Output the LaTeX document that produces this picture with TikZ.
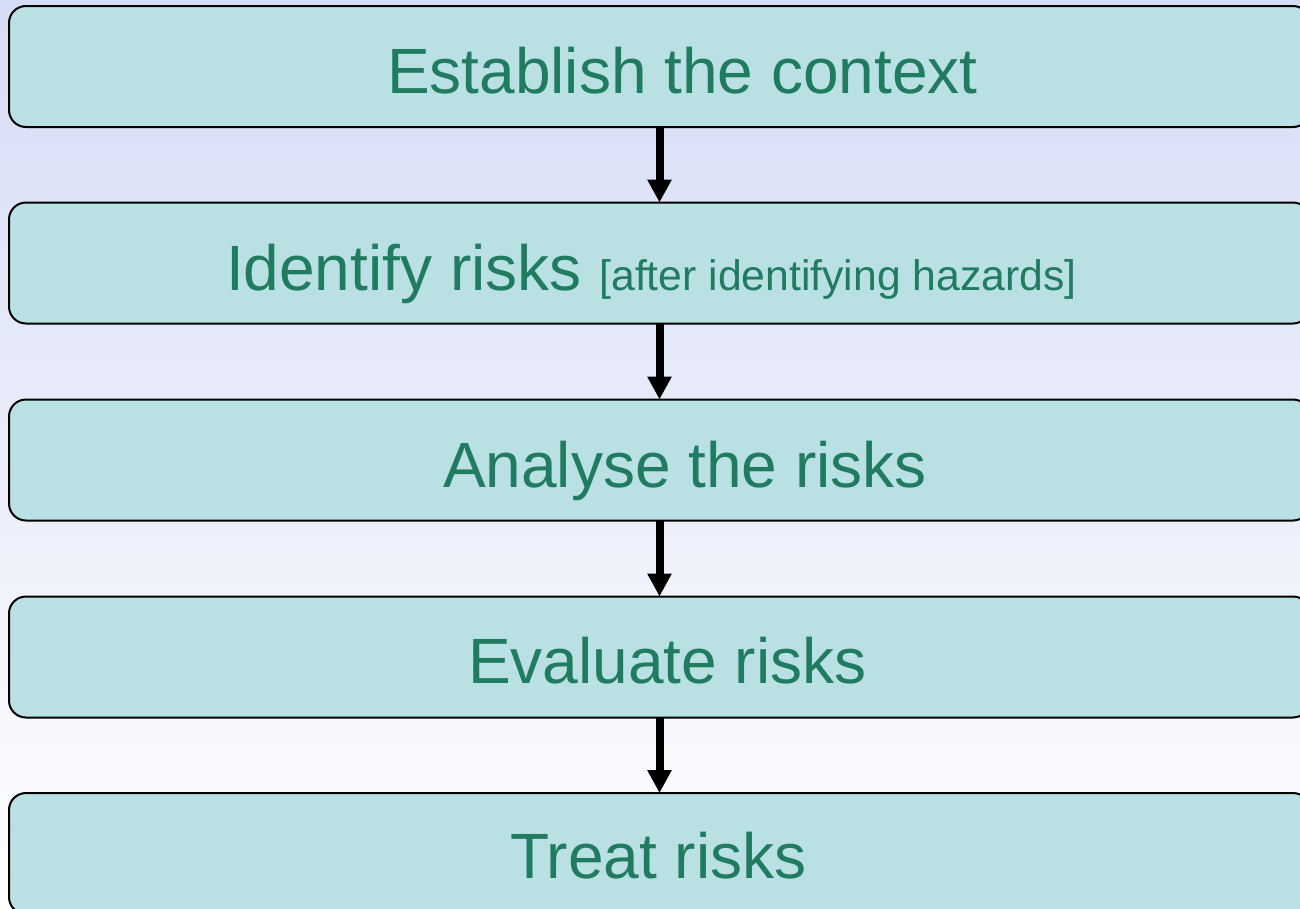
\documentclass[tikz,border=0pt]{standalone}
\usepackage{fontspec}
\setmainfont{Liberation Sans}
\usetikzlibrary{arrows.meta}
\definecolor{boxfill}{HTML}{B9E0E3}
\definecolor{txt}{HTML}{217B61}
\definecolor{bgtop}{HTML}{D5DCF5}
\tikzset{
  stepbox/.style={draw=black, line width=2pt, fill=boxfill, rounded corners=17pt,
    minimum width=1301pt, minimum height=121pt, inner sep=0pt, outer sep=0pt},
  lbl/.style={anchor=base west, inner sep=0pt, outer sep=0pt, text=txt,
    font=\fontsize{64}{70}\selectfont},
  flow/.style={line width=8pt, -{Triangle[width=23pt,length=23pt]}}
}
\begin{document}
\begin{tikzpicture}[x=1pt,y=-1pt]
\useasboundingbox (0,0) rectangle (1300,908);
\clip (0,0) rectangle (1300,908);
\shade[top color=bgtop, bottom color=white] (0,0) rectangle (1300,908);
\node[stepbox] (b1) at (659.5,66.5) {};
\node[stepbox] (b2) at (659.5,263) {};
\node[stepbox] (b3) at (659.5,460) {};
\node[stepbox] (b4) at (659.5,657) {};
\node[stepbox] (b5) at (659.5,853.5) {};
\node[lbl] (t1) at (387,93) {Establish the context};
\node[lbl] (t2) at (226,290) {Identify risks {\fontsize{42.7}{48}\selectfont [after identifying hazards]}};
\node[lbl] (t3) at (443,487) {Analyse the risks};
\node[lbl] (t4) at (468,683) {Evaluate risks};
\node[lbl] (t5) at (510,878) {Treat risks};
\draw[flow] (b1.south -| 659.5,0) -- (b2.north -| 659.5,0);
\draw[flow] (b2.south -| 659.5,0) -- (b3.north -| 659.5,0);
\draw[flow] (b3.south -| 659.5,0) -- (b4.north -| 659.5,0);
\draw[flow] (b4.south -| 659.5,0) -- (b5.north -| 659.5,0);
\end{tikzpicture}
\end{document}
